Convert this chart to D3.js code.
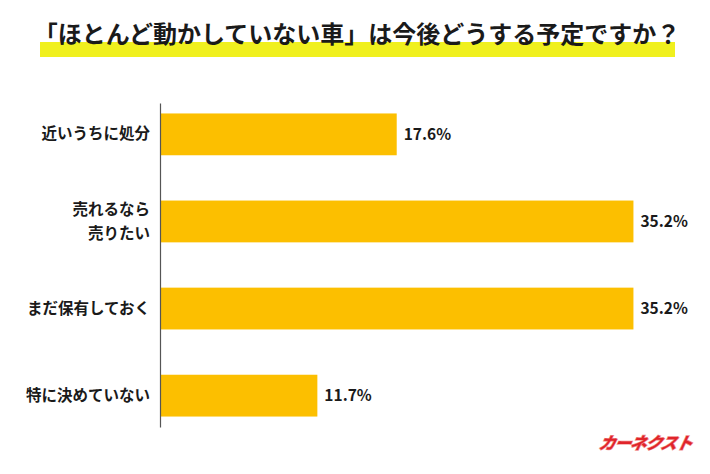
<!DOCTYPE html>
<html>
<head>
<meta charset="utf-8">
<script src="https://cdn.jsdelivr.net/npm/d3@7"></script>
<style>
  html, body { margin: 0; padding: 0; background: #fff; }
  svg { display: block; font-family: "Noto Sans CJK JP", "Noto Sans", sans-serif; }
</style>
</head>
<body>
<script>
// chart data
const title = "「ほとんど動かしていない車」は今後どうする予定ですか？";
const categories = ["近いうちに処分", "売れるなら\n売りたい", "まだ保有しておく", "特に決めていない"];
const values = [17.6, 35.2, 35.2, 11.7];
const logoText = "カーネクスト";

const width = 710;
const height = 474;

const svg = d3.select("body")
    .append("svg")
    .attr("width", width)
    .attr("height", height);

svg.append("rect")
    .attr("width", width)
    .attr("height", height)
    .attr("fill", "#fff");

// title with yellow marker underline
svg.append("rect")
    .attr("x", 40)
    .attr("y", 42)
    .attr("width", 635)
    .attr("height", 15)
    .attr("fill", "#f0f01e");

svg.append("text")
    .attr("x", 357)
    .attr("y", 43)
    .attr("text-anchor", "middle")
    .attr("font-size", 24)
    .attr("font-weight", "bold")
    .attr("fill", "#1a1a1a")
    .text(title);

const xScale = d3.scaleLinear()
    .domain([0, 40])
    .range([160, 698]);

const yScale = d3.scaleBand()
    .domain(categories)
    .range([103, 427])
    .paddingInner(0.52)
    .paddingOuter(0.12);

// bars
svg.append("g")
    .selectAll("rect")
    .data(values)
    .join("rect")
    .attr("x", xScale(0))
    .attr("y", (d, i) => yScale(categories[i]))
    .attr("width", (d) => xScale(d) - xScale(0))
    .attr("height", yScale.bandwidth())
    .attr("fill", "#fcbf00");

// value labels
svg.append("g")
    .selectAll("text")
    .data(values)
    .join("text")
    .attr("x", (d) => xScale(d) + 7)
    .attr("y", (d, i) => yScale(categories[i]) + yScale.bandwidth() / 2)
    .attr("dy", "0.36em")
    .attr("font-size", 15.5)
    .attr("font-weight", "bold")
    .attr("fill", "#1a1a1a")
    .text((d) => d.toFixed(1) + "%");

// category axis
const yAxis = svg.append("g")
    .attr("transform", `translate(${xScale(0)},0)`)
    .call(d3.axisLeft(yScale).tickSize(0).tickPadding(10));

yAxis.select(".domain")
    .attr("stroke", "#555")
    .attr("stroke-width", 1.2);

yAxis.selectAll(".tick text")
    .attr("font-size", 15.5)
    .attr("font-weight", "bold")
    .attr("font-family", "\"Noto Sans CJK JP\", sans-serif")
    .attr("fill", "#1a1a1a")
    .each(function (d) {
        const lines = d.split("\n");
        if (lines.length < 2) return;
        const t = d3.select(this);
        t.text(null).attr("dy", null);
        lines.forEach((line, i) => {
            t.append("tspan")
                .attr("x", -10)
                .attr("dy", i === 0 ? `${-0.78 * (lines.length - 1) + 0.36}em` : "1.56em")
                .text(line);
        });
    });

// logo
svg.append("text")
    .attr("x", 646)
    .attr("y", 449)
    .attr("text-anchor", "middle")
    .attr("font-size", 16.5)
    .attr("font-weight", "bold")
    .attr("font-style", "italic")
    .attr("fill", "#e0242a")
    .attr("stroke", "#f08a8a")
    .attr("stroke-width", 1.4)
    .attr("paint-order", "stroke")
    .attr("letter-spacing", -1)
    .attr("transform", "skewX(-12) translate(94,0)")
    .text(logoText);
</script>
</body>
</html>
